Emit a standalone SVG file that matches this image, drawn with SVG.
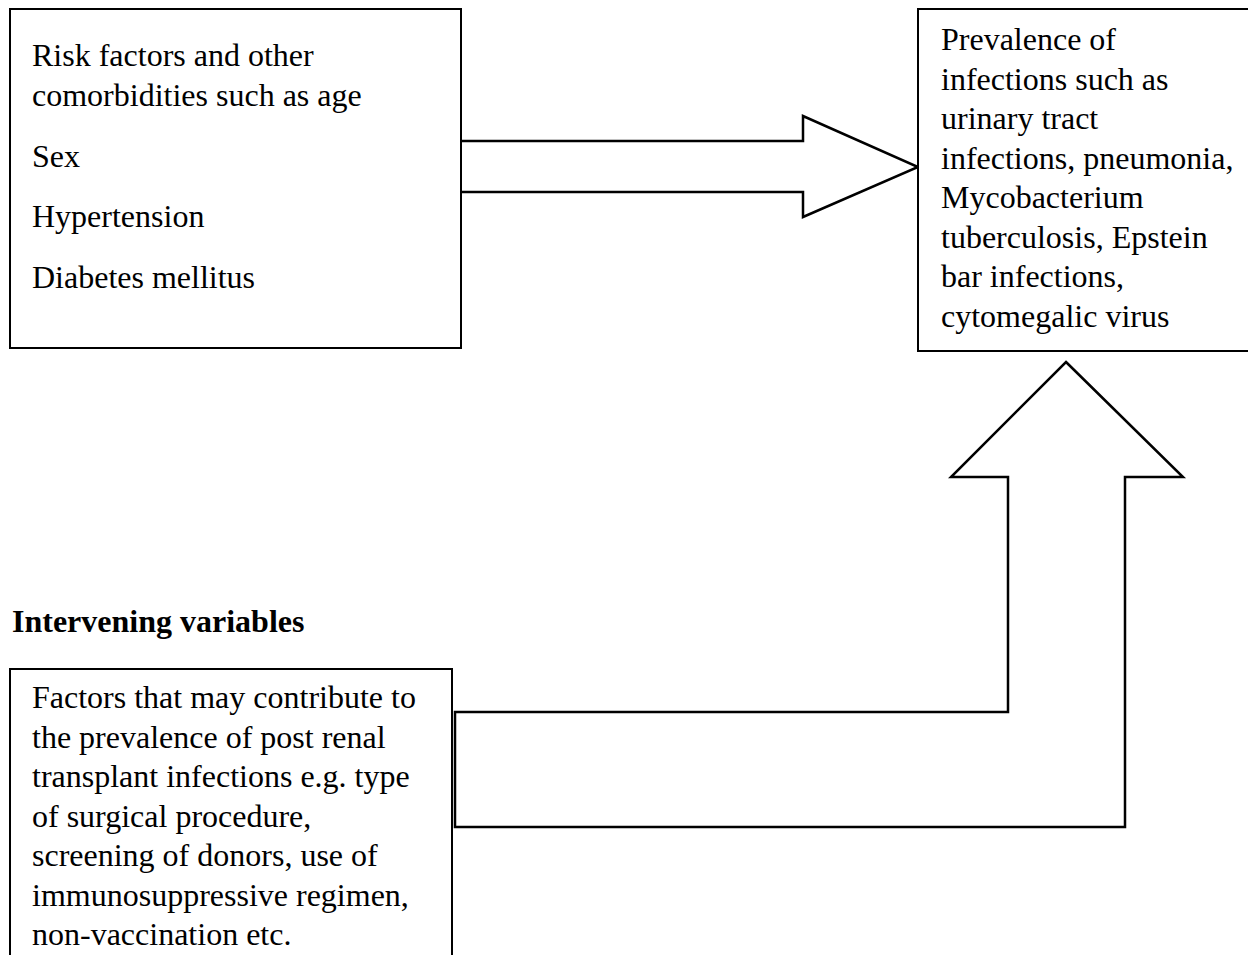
<svg xmlns="http://www.w3.org/2000/svg" width="1248" height="955" viewBox="0 0 1248 955">
<style>
.box{fill:#fff;stroke:#000;stroke-width:2}
.arr{fill:#fff;stroke:#000;stroke-width:2.5;stroke-linejoin:miter}
.t{font-family:"Liberation Serif","Times New Roman",serif;font-size:32px;fill:#000}
.b{font-weight:bold}
</style>
<rect width="1248" height="955" fill="#fff"/>
<g id="connectors">
<polygon class="arr" points="460,141 803,141 803,116 918,167 803,217 803,192 460,192"/>
<line x1="460" y1="140" x2="460" y2="193" stroke="#000" stroke-width="4"/>
<polygon class="arr" points="1066,362 1183,477 1125,477 1125,827 455,827 455,712 1008,712 1008,477 951,477"/>
</g>
<g id="node-risk">
<rect class="box" x="10" y="9" width="451" height="339"/>
<text class="t" x="32" y="66">Risk factors and other</text>
<text class="t" x="32" y="106">comorbidities such as age</text>
<text class="t" x="32" y="167">Sex</text>
<text class="t" x="32" y="227">Hypertension</text>
<text class="t" x="32" y="288">Diabetes mellitus</text>
</g>
<g id="node-prevalence">
<rect class="box" x="918" y="9" width="340" height="342"/>
<text class="t" x="941" y="50">Prevalence of</text>
<text class="t" x="941" y="90">infections such as</text>
<text class="t" x="941" y="129">urinary tract</text>
<text class="t" x="941" y="169">infections, pneumonia,</text>
<text class="t" x="941" y="208">Mycobacterium</text>
<text class="t" x="941" y="248">tuberculosis, Epstein</text>
<text class="t" x="941" y="287">bar infections,</text>
<text class="t" x="941" y="327">cytomegalic virus</text>
</g>
<g id="label-intervening">
<text class="t b" x="12" y="632">Intervening variables</text>
</g>
<g id="node-factors">
<rect class="box" x="10" y="669" width="442" height="300"/>
<text class="t" x="32" y="708">Factors that may contribute to</text>
<text class="t" x="32" y="748">the prevalence of post renal</text>
<text class="t" x="32" y="787">transplant infections e.g. type</text>
<text class="t" x="32" y="827">of surgical procedure,</text>
<text class="t" x="32" y="866">screening of donors, use of</text>
<text class="t" x="32" y="906">immunosuppressive regimen,</text>
<text class="t" x="32" y="945">non-vaccination etc.</text>
</g>
</svg>
